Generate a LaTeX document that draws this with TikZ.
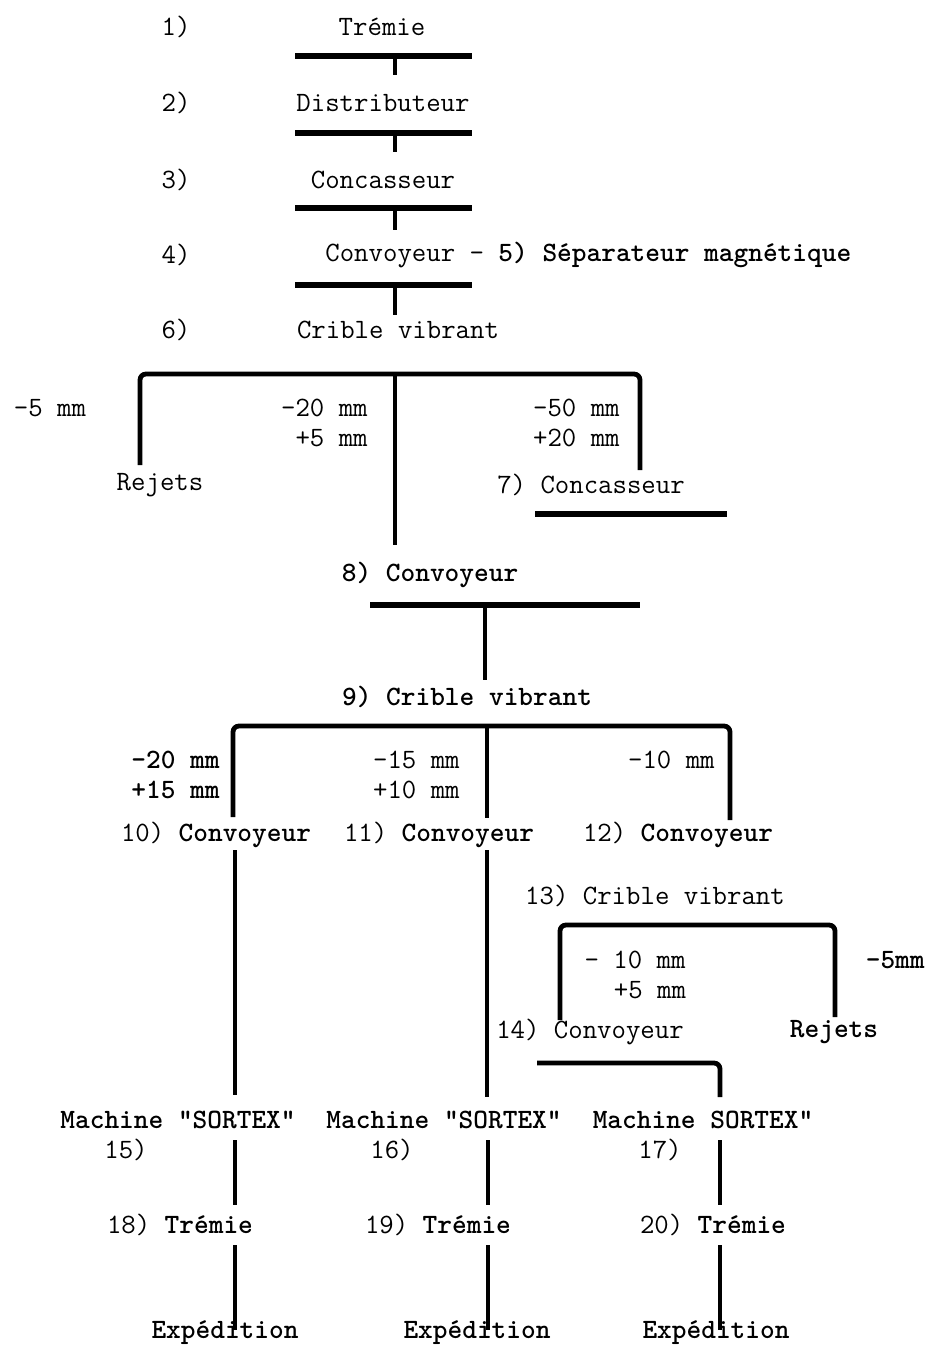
\documentclass[tikz,border=0pt]{standalone}
\usepackage{tikz}
\usetikzlibrary{positioning}

\begin{document}
\begin{tikzpicture}[
    x=0.5pt, y=-0.5pt,
    font=\ttfamily\fontsize{14}{16}\selectfont,
    txt/.style={inner sep=1pt},
    btxt/.style={inner sep=1pt, font=\ttfamily\bfseries\fontsize{14}{16}\selectfont},
    sieve/.style={inner sep=1pt, anchor=east},
    bar/.style={line width=2.6pt},
    feed/.style={line width=2.2pt},
    fork/.style={line width=2.4pt, rounded corners=3pt}
]
\useasboundingbox (0,0) rectangle (928,1350);

% --- main line 1) to 6)
\node[txt] (n1) at (176,27) {1)};
\node[txt] (tremie) at (382,27) {Trémie};
\node[txt] (n2) at (176,103) {2)};
\node[txt] (distrib) at (383,103) {Distributeur};
\node[txt] (n3) at (176,180) {3)};
\node[txt] (concas) at (383,180) {Concasseur};
\node[txt] (n4) at (176,255) {4)};
\node[txt, anchor=west] (convoy) at (323,255) {Convoyeur - \textbf{5) Séparateur magnétique}};
\node[txt] (n6) at (176,330) {6)};
\node[txt] (crible) at (398,330) {Crible vibrant};

\foreach \by/\len [count=\i] in {56/19, 133/19, 208/22, 285/30} {
  \coordinate (bar\i w) at (295,\by);
  \coordinate (bar\i e) at (472,\by);
  \coordinate (bar\i m) at (395,\by);
  \draw[bar] (bar\i w) -- (bar\i e);
  \draw[feed] (bar\i m) -- ++(0,\len);
}

% --- 6) first screening
\coordinate (f6l) at (140,465);
\coordinate (f6c) at (395,374);
\coordinate (f6r) at (640,470);
\coordinate (f6d) at (395,545);
\draw[fork] (f6l) |- (f6r |- f6c) -- (f6r);
\draw[feed] (f6c) -- (f6d);

\node[txt] (rej6) at (50,408) {-5 mm};
\node[sieve] (s6a) at (370,408) {-20 mm};
\node[sieve] (s6b) at (370,438) {+5 mm};
\node[sieve] (s6c) at (622,408) {-50 mm};
\node[sieve] (s6d) at (622,438) {+20 mm};
\node[txt] (rejets6) at (160,485) {Rejets};
\node[txt] (concas7) at (591,485) {7) Concasseur};
\coordinate (bar7w) at (535,514);
\coordinate (bar7e) at (727,514);
\draw[bar] (bar7w) -- (bar7e);

% --- 8) and 9)
\node[btxt] (convoy8) at (430,575) {8) Convoyeur};
\coordinate (bar8w) at (370,605);
\coordinate (bar8e) at (640,605);
\coordinate (bar8m) at (485,605);
\coordinate (bar8d) at (485,680);
\draw[bar] (bar8w) -- (bar8e);
\draw[feed] (bar8m) -- (bar8d);
\node[btxt] (crible9) at (467,697) {9) Crible vibrant};

\coordinate (f9l) at (233,817);
\coordinate (f9c) at (487,726);
\coordinate (f9m) at (487,818);
\coordinate (f9r) at (730,820);
\draw[fork] (f9l) |- (f9r |- f9c) -- (f9r);
\draw[feed] (f9c) -- (f9m);

\node[sieve, btxt, anchor=east] (s9a) at (222,760) {-20 mm};
\node[sieve, btxt, anchor=east] (s9b) at (222,790) {+15 mm};
\node[sieve] (s9c) at (462,760) {-15 mm};
\node[sieve] (s9d) at (462,790) {+10 mm};
\node[sieve] (s9e) at (717,760) {-10 mm};

\node[txt] (convoy10) at (216,835) {10) \textbf{Convoyeur}};
\node[txt] (convoy11) at (439,835) {11) \textbf{Convoyeur}};
\node[txt] (convoy12) at (678,835) {12) \textbf{Convoyeur}};

% --- 13) third screening
\node[txt] (crible13) at (655,896) {13) Crible vibrant};
\coordinate (f13l) at (560,1020);
\coordinate (f13t) at (560,925);
\coordinate (f13r) at (835,1017);
\draw[fork] (f13l) |- (f13r |- f13t) -- (f13r);
\node[txt] (s13a) at (635,960) {- 10 mm};
\node[txt] (s13b) at (650,990) {+5 mm};
\node[btxt, anchor=east] (rej13) at (927,960) {-5mm};
\node[txt] (convoy14) at (590,1032) {14) Convoyeur};
\node[btxt] (rejets13) at (834,1032) {Rejets};
\coordinate (bar14w) at (537,1063);
\coordinate (bar14d) at (720,1097);
\draw[fork] (bar14w) -| (bar14d);

% --- sorters, hoppers, dispatch
\node[btxt] (sortex15) at (178,1120) {Machine "SORTEX"};
\node[btxt] (sortex16) at (444,1120) {Machine "SORTEX"};
\node[btxt] (sortex17) at (703,1120) {Machine SORTEX"};
\node[txt] (n15) at (126,1150) {15)};
\node[txt] (n16) at (392,1150) {16)};
\node[txt] (n17) at (660,1150) {17)};

\node[txt] (tremie18) at (180,1225) {18) \textbf{Trémie}};
\node[txt] (tremie19) at (438,1225) {19) \textbf{Trémie}};
\node[txt] (tremie20) at (713,1225) {20) \textbf{Trémie}};

\node[btxt] (exped18) at (225,1333) {Expédition};
\node[btxt] (exped19) at (477,1333) {Expédition};
\node[btxt] (exped20) at (716,1333) {Expédition};

\coordinate (l10a) at (235,850);  \coordinate (l10b) at (235,1095);
\coordinate (l11a) at (487,850);  \coordinate (l11b) at (487,1097);
\draw[feed] (l10a) -- (l10b);
\draw[feed] (l11a) -- (l11b);

\foreach \lx/\tag in {235/18, 488/19, 720/20} {
  \coordinate (up\tag) at (\lx,1140);
  \coordinate (mid\tag) at (\lx,1205);
  \coordinate (low\tag) at (\lx,1245);
  \coordinate (end\tag) at (\lx,1330);
  \draw[feed] (up\tag) -- (mid\tag);
  \draw[feed] (low\tag) -- (end\tag);
}

\end{tikzpicture}
\end{document}
